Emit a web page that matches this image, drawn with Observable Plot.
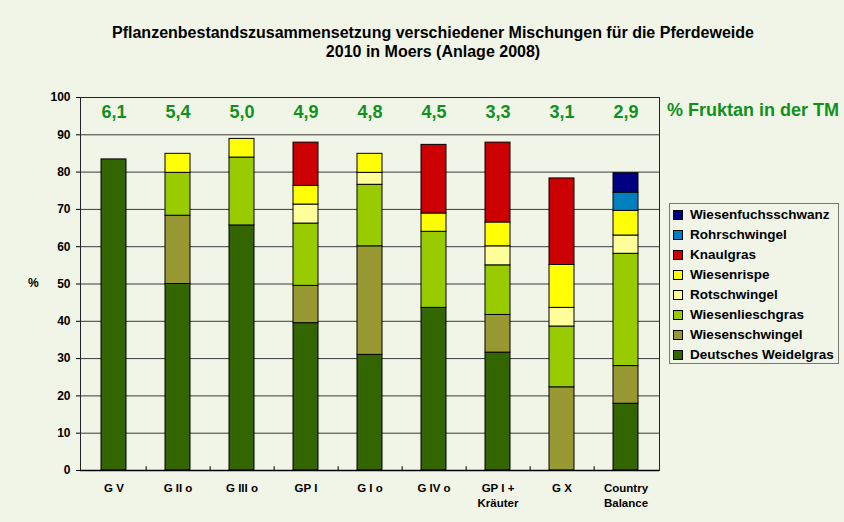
<!DOCTYPE html>
<html><head><meta charset="utf-8">
<script src="https://cdn.jsdelivr.net/npm/d3@7"></script>
<script src="https://cdn.jsdelivr.net/npm/@observablehq/plot@0.6"></script>
<style>
body{margin:0;background:#f0f5e7;font-family:"Liberation Sans",Arial,sans-serif;}
#wrap{position:relative;width:844px;height:522px;overflow:hidden;background:#f0f5e7;}
#chart{position:absolute;left:0;top:0;}
#title{position:absolute;left:22px;top:23px;width:822px;text-align:center;font-weight:bold;font-size:16px;line-height:19px;color:#000;}
#ylab{position:absolute;left:28px;top:276px;font-weight:bold;font-size:12px;color:#000;}
#fruktan{position:absolute;left:667px;top:100px;font-weight:bold;font-size:18px;color:#12901e;white-space:nowrap;}
#legend{position:absolute;left:669px;top:203px;width:170px;height:161px;border:1px solid #777;box-sizing:border-box;padding-top:1px;}
.row{height:20px;line-height:20px;font-weight:bold;font-size:13.5px;color:#000;position:relative;white-space:nowrap;}
.sw{position:absolute;left:3px;top:5px;width:8px;height:8px;border:1px solid #000;}
.lt{position:absolute;left:20px;top:0;}
</style></head><body>
<div id="wrap">
<div id="chart"></div>
<div id="title">Pflanzenbestandszusammensetzung verschiedener Mischungen für die Pferdeweide<br>2010 in Moers (Anlage 2008)</div>
<div id="ylab">%</div>
<div id="fruktan">% Fruktan in der TM</div>
<div id="legend"></div>
</div>
<script>
const categories = ["G V","G II o","G III o","GP I","G I o","G IV o","GP I +\nKräuter","G X","Country\nBalance"];
const fructan = ["6,1","5,4","5,0","4,9","4,8","4,5","3,3","3,1","2,9"];
const species = ["Deutsches Weidelgras","Wiesenschwingel","Wiesenlieschgras","Rotschwingel","Wiesenrispe","Knaulgras","Rohrschwingel","Wiesenfuchsschwanz"];
const colors = ["#336600","#999933","#99cc00","#ffff99","#ffff00","#cc0000","#0080c0","#000080"];
const deutschesWeidelgras = [83.4,50.0,65.7,39.5,31.0,43.6,31.6,0,17.9];
const wiesenschwingel    = [0,18.3,0,10.0,29.1,0,10.1,22.3,10.1];
const wiesenlieschgras   = [0,11.5,18.2,16.7,16.5,20.4,13.3,16.3,30.1];
const rotschwingel       = [0,0,0,5.1,3.2,0,5.1,5.0,4.9];
const wiesenrispe        = [0,5.1,5.0,5.0,5.1,4.9,6.4,11.5,6.6];
const knaulgras          = [0,0,0,11.6,0,18.4,21.4,23.2,0];
const rohrschwingel      = [0,0,0,0,0,0,0,0,4.9];
const wiesenfuchsschwanz = [0,0,0,0,0,0,0,0,5.2];
const yTicks = [0,10,20,30,40,50,60,70,80,90,100];
const gridTicks = [10,20,30,40,50,60,70,80,90];

const series = [deutschesWeidelgras,wiesenschwingel,wiesenlieschgras,rotschwingel,wiesenrispe,knaulgras,rohrschwingel,wiesenfuchsschwanz];
const table = species.flatMap((s,j)=>categories.map((c,i)=>({cat:c,species:s,value:series[j][i]}))).filter(d=>d.value>0);

const W=844,H=522,ML=80,MR=185,MT=97,MB=52;
const halfStep=(W-ML-MR)/categories.length/2;

const chart = Plot.plot({
  width:W,height:H,marginLeft:ML,marginRight:MR,marginTop:MT,marginBottom:MB,
  style:{background:"transparent",fontFamily:"Liberation Sans, Arial, sans-serif",color:"#000"},
  x:{domain:categories,paddingInner:0.61,paddingOuter:0.305,label:null,axis:null},
  y:{domain:[0,100],label:null,axis:null},
  color:{domain:species,range:colors},
  marks:[
    Plot.ruleY(gridTicks,{stroke:"#3a3a3a",strokeWidth:1}),
    Plot.frame({stroke:"#222"}),
    Plot.barY(table,{x:"cat",y:"value",fill:"species",order:species,stroke:"#000",strokeWidth:1}),
    Plot.ruleX(categories.slice(0,-1),{x:d=>d,y1:0,y2:1,dx:halfStep,stroke:"#000"}),
    Plot.text(categories,{x:d=>d,y:96,text:(d,i)=>fructan[i],fill:"#12901e",fontSize:18,fontWeight:"bold"}),
    Plot.axisY(yTicks,{fontSize:12,fontWeight:"bold",tickSize:4,tickPadding:6,stroke:"#000",fill:"#000"}),
    Plot.axisX({fontSize:11.5,fontWeight:"bold",tickSize:0,tickPadding:11,lineHeight:1.32,fill:"#000"}),
    Plot.ruleY([0],{stroke:"#000",strokeWidth:1.5}),
    Plot.ruleX([categories[0]],{x:()=>0,stroke:"#000"})
  ]
});
document.getElementById("chart").appendChild(chart);

const leg=document.getElementById("legend");
for(let j=species.length-1;j>=0;j--){
  const r=document.createElement("div");r.className="row";
  r.innerHTML=`<span class="sw" style="background:${colors[j]}"></span><span class="lt">${species[j]}</span>`;
  leg.appendChild(r);
}
</script>
</body></html>
